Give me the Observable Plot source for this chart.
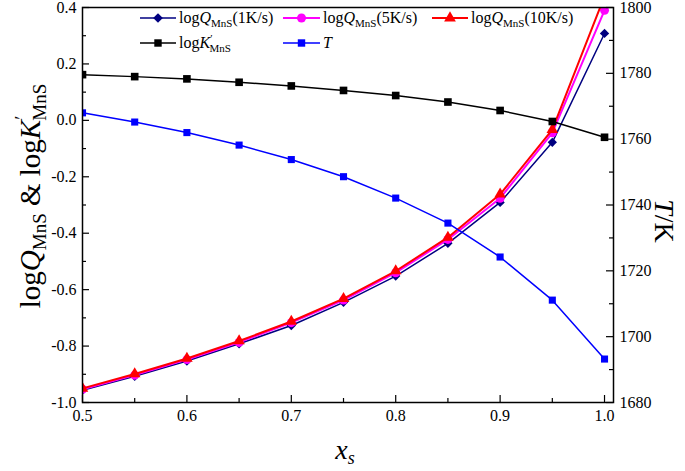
<!DOCTYPE html>
<html><head><meta charset="utf-8">
<script src="https://cdn.jsdelivr.net/npm/d3@7"></script>
<script src="https://cdn.jsdelivr.net/npm/@observablehq/plot@0.6"></script>
<style>
body{margin:0;background:#fff;}
#chart{position:relative;width:685px;height:471px;}
#chart svg text{font-family:'Liberation Serif','Times New Roman',serif;}
</style></head><body><div id="chart"></div>
<script>
// ---- data ----
const xs = [0.5, 0.55, 0.6, 0.65, 0.7, 0.75, 0.8, 0.85, 0.9, 0.95, 1.0];
const logQ1K  = [-0.957, -0.907, -0.853, -0.792, -0.727, -0.645, -0.552, -0.436, -0.291, -0.078, 0.308];
const logQ5K  = [-0.953, -0.903, -0.848, -0.787, -0.717, -0.637, -0.540, -0.422, -0.276, -0.044, 0.390];
const logQ10K = [-0.950, -0.899, -0.844, -0.782, -0.713, -0.632, -0.534, -0.415, -0.262, -0.033, 0.440];
const logK    = [0.162, 0.155, 0.147, 0.135, 0.122, 0.106, 0.088, 0.065, 0.035, -0.004, -0.060];
const T       = [1768.0, 1765.2, 1762.0, 1758.2, 1753.8, 1748.6, 1742.1, 1734.5, 1724.2, 1711.1, 1693.2];

const xTicks = [0.5, 0.6, 0.7, 0.8, 0.9, 1.0];
const xMinor = [0.55, 0.65, 0.75, 0.85, 0.95];
const yTicks = [-1.0, -0.8, -0.6, -0.4, -0.2, 0.0, 0.2, 0.4];
const yMinor = [-0.9, -0.7, -0.5, -0.3, -0.1, 0.1, 0.3];
const tTicks = [1680, 1700, 1720, 1740, 1760, 1780, 1800];
const tMinor = [1690, 1710, 1730, 1750, 1770, 1790];

const yDomain = [-1.0, 0.4];
const tDomain = [1680, 1800];
const tToY = t => yDomain[0] + (t - tDomain[0]) / (tDomain[1] - tDomain[0]) * (yDomain[1] - yDomain[0]);
const yToT = y => tDomain[0] + (y - yDomain[0]) / (yDomain[1] - yDomain[0]) * (tDomain[1] - tDomain[0]);

const W = 685, H = 471, mL = 82, mR = 72, mT = 7, mB = 69;
const pw = W - mL - mR, ph = H - mT - mB;
const FONT = "'Liberation Serif', 'Times New Roman', serif";

const series = [
  {vals: logQ1K,  color: "#000080", symbol: "diamond2", r: 4.2, sw: 1.5},
  {vals: logQ5K,  color: "#ff00ff", symbol: "circle",   r: 4.5, sw: 2},
  {vals: logQ10K, color: "#ff0000", symbol: "triangle", r: 4.3, sw: 2},
  {vals: logK,    color: "#000000", symbol: "square",   r: 4.3, sw: 1.5},
  {vals: T.map(tToY), color: "#0000ff", symbol: "square", r: 4.0, sw: 1.5}
];

const marks = [];
for (const s of series) {
  const rows = xs.map((x, i) => ({x, y: s.vals[i]}));
  marks.push(Plot.line(rows, {x: "x", y: "y", stroke: s.color, strokeWidth: s.sw, clip: true}));
  marks.push(Plot.dot(rows, {x: "x", y: "y", symbol: () => s.symbol, fill: s.color, stroke: "none", r: s.r, clip: true}));
}

const tick = {stroke: "black", strokeWidth: 1.2};
marks.push(
  Plot.tickX(xTicks, {x: d => d, insetTop: ph - 7, ...tick}),
  Plot.tickX(xMinor, {x: d => d, insetTop: ph - 4, ...tick}),
  Plot.tickY(yTicks, {y: d => d, insetRight: pw - 7, ...tick}),
  Plot.tickY(yMinor, {y: d => d, insetRight: pw - 4, ...tick}),
  Plot.tickY(tTicks.map(tToY), {y: d => d, insetLeft: pw - 7, ...tick}),
  Plot.tickY(tMinor.map(tToY), {y: d => d, insetLeft: pw - 4, ...tick}),
  Plot.axisX(xTicks, {tickSize: 0, tickPadding: 7, tickFormat: d => d.toFixed(1), label: null}),
  Plot.axisY(yTicks, {anchor: "left", tickSize: 0, tickPadding: 6, tickFormat: d => d.toFixed(1), label: null}),
  Plot.axisY(tTicks.map(tToY), {anchor: "right", tickSize: 0, tickPadding: 6, tickFormat: d => String(Math.round(yToT(d))), label: null}),
  Plot.frame({stroke: "black", strokeWidth: 1.5})
);

const plot = Plot.plot({
  width: W, height: H,
  marginLeft: mL, marginRight: mR, marginTop: mT, marginBottom: mB,
  x: {domain: [0.5, 1.0086]},
  y: {domain: yDomain},
  style: {fontFamily: FONT, fontSize: "16px", color: "black", background: "white", overflow: "visible"},
  marks
});
document.getElementById("chart").appendChild(plot);

// ---- axis titles and legend (rich text) ----
const svg = d3.select(plot);
const g = svg.append("g").attr("font-family", FONT).attr("fill", "black").attr("text-anchor", "start");

// left title
const yl = g.append("text").attr("transform", "translate(40,196) rotate(-90)")
  .attr("text-anchor", "middle").attr("font-size", 29);
yl.append("tspan").text("log");
yl.append("tspan").attr("font-style", "italic").text("Q");
yl.append("tspan").attr("font-size", 19).attr("dy", 6).text("MnS");
yl.append("tspan").attr("dy", -6).text(" & log");
yl.append("tspan").attr("font-style", "italic").text("K");
yl.append("tspan").attr("font-size", 19).attr("dy", -12).text("′");
yl.append("tspan").attr("font-size", 19).attr("dx", -5).attr("dy", 18).text("MnS");

// right title
const tl = g.append("text").attr("transform", "translate(655,221) rotate(90)")
  .attr("text-anchor", "middle").attr("font-size", 28);
tl.append("tspan").attr("font-style", "italic").text("T");
tl.append("tspan").text("/K");

// x title
const xl = g.append("text").attr("x", 345).attr("y", 459).attr("text-anchor", "middle").attr("font-size", 28);
xl.append("tspan").attr("font-style", "italic").text("x");
xl.append("tspan").attr("font-style", "italic").attr("font-size", 18).attr("dy", 5).text("s");

// legend
const legendItems = [
  {x0: 140, x1: 176, y: 18, color: "#000080", sym: d3.symbolDiamond2, size: 60, q: "(1K/s)"},
  {x0: 283, x1: 320, y: 18, color: "#ff00ff", sym: d3.symbolCircle, size: 64, q: "(5K/s)"},
  {x0: 432, x1: 468, y: 18, color: "#ff0000", sym: d3.symbolTriangle, size: 60, q: "(10K/s)"},
  {x0: 140, x1: 176, y: 43, color: "#000000", sym: d3.symbolSquare, size: 55, k: true},
  {x0: 283, x1: 320, y: 43, color: "#0000ff", sym: d3.symbolSquare, size: 55, t: true}
];
for (const it of legendItems) {
  g.append("line").attr("x1", it.x0).attr("x2", it.x1).attr("y1", it.y).attr("y2", it.y)
    .attr("stroke", it.color).attr("stroke-width", it.color === "#ff00ff" || it.color === "#ff0000" ? 2 : 1.5);
  g.append("path").attr("d", d3.symbol(it.sym, it.size)())
    .attr("transform", `translate(${(it.x0 + it.x1) / 2},${it.y})`).attr("fill", it.color);
  const tx = g.append("text").attr("x", it.x1 + 3).attr("y", it.y + 5).attr("font-size", 16).attr("text-anchor", "start");
  if (it.t) {
    tx.append("tspan").attr("font-style", "italic").text("T");
  } else if (it.k) {
    tx.append("tspan").text("log");
    tx.append("tspan").attr("font-style", "italic").text("K");
    tx.append("tspan").attr("font-size", 11).attr("dy", -6).text("′");
    tx.append("tspan").attr("font-size", 11).attr("dx", -3).attr("dy", 10).text("MnS");
  } else {
    tx.append("tspan").text("log");
    tx.append("tspan").attr("font-style", "italic").text("Q");
    tx.append("tspan").attr("font-size", 11).attr("dy", 4).text("MnS");
    tx.append("tspan").attr("dy", -4).text(it.q);
  }
}
</script>
</body></html>
